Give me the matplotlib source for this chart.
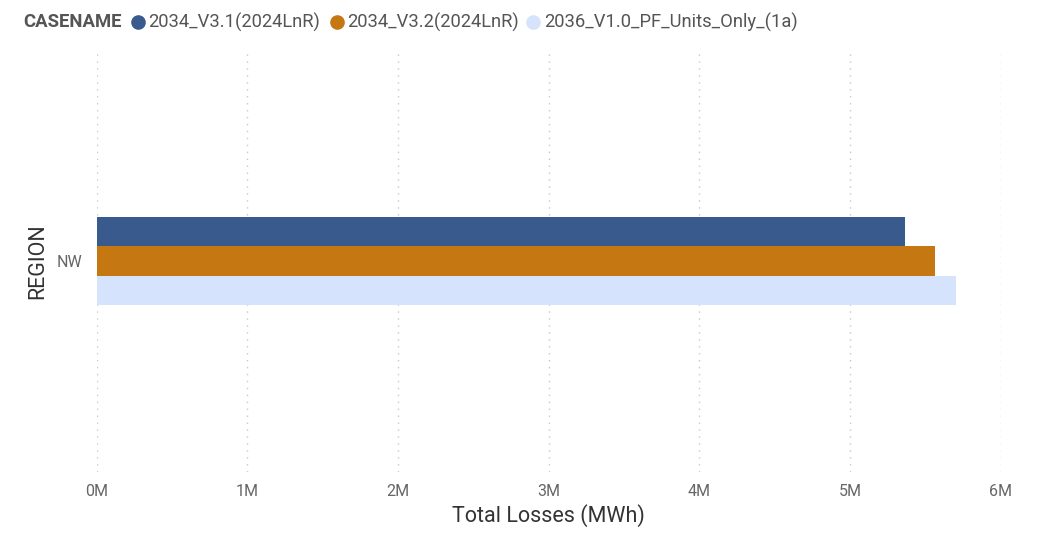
import matplotlib
matplotlib.use("Agg")
import matplotlib.pyplot as plt
from matplotlib.lines import Line2D
from matplotlib.ticker import FuncFormatter

plt.rcParams['font.family'] = ['Roboto', 'DejaVu Sans']

# data
regions = ['NW']
case_names = ['2034_V3.1(2024LnR)', '2034_V3.2(2024LnR)', '2036_V1.0_PF_Units_Only_(1a)']
losses = [[5.365e6], [5.565e6], [5.700e6]]
colors = ['#395A8D', '#C57712', '#D5E3FD']
x_ticks = [0, 1e6, 2e6, 3e6, 4e6, 5e6, 6e6]

W, H = 1038, 534
fig = plt.figure(figsize=(W / 100, H / 100), dpi=100)
ax = fig.add_axes([96.7 / W, 1 - 472 / H, (1000.7 - 96.7) / W, 422 / H])

bar_h = 0.07
n = len(case_names)
for i, (name, vals) in enumerate(zip(case_names, losses)):
    offset = (n - 1) / 2 * bar_h - i * bar_h
    ys = [r + offset for r in range(len(regions))]
    ax.barh(ys, vals, height=bar_h, color=colors[i], label=name, zorder=3)

ax.set_xlim(0, 6e6)
ax.set_ylim(-0.5, 0.5)
ax.set_xticks(x_ticks)
ax.xaxis.set_major_formatter(FuncFormatter(lambda v, p: '{:.0f}M'.format(v / 1e6)))
ax.set_yticks(range(len(regions)))
ax.set_yticklabels(regions)
ax.tick_params(axis='both', length=0, labelsize=11.5, labelcolor='#666666')
ax.tick_params(axis='x', pad=9)
ax.tick_params(axis='y', pad=10)
for s in ax.spines.values():
    s.set_visible(False)
ax.grid(axis='x', linestyle=(0, (1, 4)), color='#c8c8c8', linewidth=1, zorder=0)

ax.set_xlabel('Total Losses (MWh)', fontsize=15.5, color='#333333', labelpad=3)
ax.set_ylabel('REGION', fontsize=15.5, color='#333333', labelpad=6)

# legend row
ly = 1 - 22 / H
fig.text(23 / W, ly, 'CASENAME', fontsize=13.3, fontweight='bold',
         color='#555555', va='center', ha='left')
marker_x = [138, 337, 533]
text_x = [148, 347, 544]
for c, name, mx, tx in zip(colors, case_names, marker_x, text_x):
    fig.add_artist(Line2D([mx / W], [ly], marker='o', markersize=9.5, color=c,
                          linestyle='', transform=fig.transFigure))
    fig.text(tx / W, ly, name, fontsize=13.2, color='#555555', va='center', ha='left')

fig.savefig('out.png', dpi=100)
